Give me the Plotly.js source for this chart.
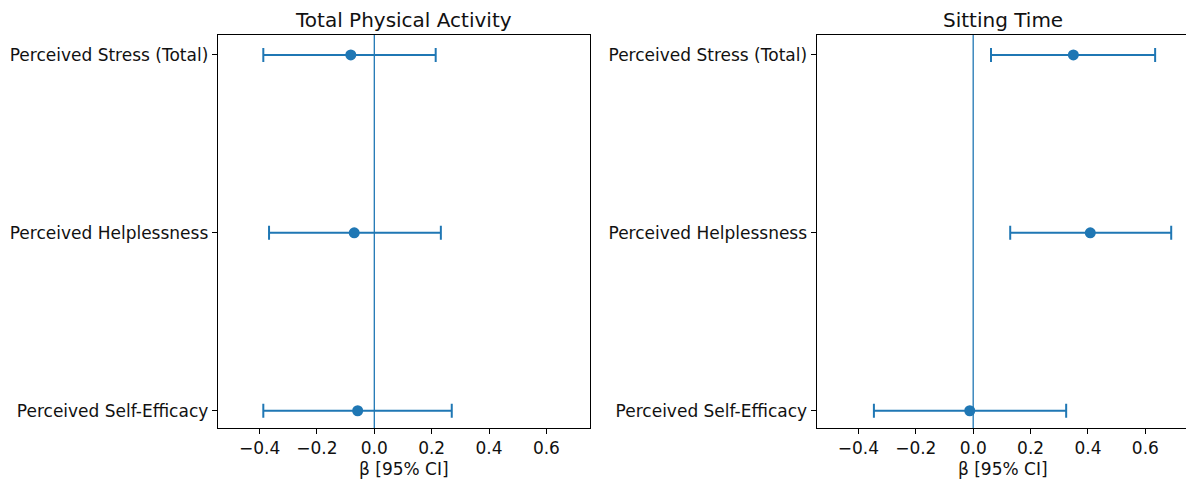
<!DOCTYPE html>
<html>
<head>
<meta charset="utf-8">
<script src="https://cdn.plot.ly/plotly-3.0.1.min.js"></script>
<style>
html,body{margin:0;padding:0;overflow:hidden;background:#fff;}
#chart{width:1190px;height:484px;}
</style>
</head>
<body>
<div id="chart"></div>
<script>
const categories = ['Perceived Stress (Total)', 'Perceived Helplessness', 'Perceived Self-Efficacy'];
const panelTitles = ['Total Physical Activity', 'Sitting Time'];

const paBeta  = [-0.082, -0.070, -0.058];
const paLower = [-0.387, -0.367, -0.387];
const paUpper = [0.214, 0.232, 0.270];

const stBeta  = [0.349, 0.408, -0.012];
const stLower = [0.062, 0.129, -0.346];
const stUpper = [0.634, 0.690, 0.324];

const xTicks = [-0.4, -0.2, 0.0, 0.2, 0.4, 0.6];
const xTitle = 'β [95% CI]';

const blue = '#1f77b4';
const W = 1190, H = 484;

function trace(beta, lo, hi, xa, ya) {
  return {
    type: 'scatter', mode: 'markers',
    x: beta, y: categories,
    xaxis: xa, yaxis: ya,
    marker: {color: blue, size: 11},
    error_x: {
      type: 'data', symmetric: false,
      array: beta.map((b, i) => hi[i] - b),
      arrayminus: beta.map((b, i) => b - lo[i]),
      color: blue, thickness: 2, width: 7
    },
    showlegend: false, hoverinfo: 'x+y'
  };
}

const yTop = 1 - 35 / H, yBot = 1 - 428 / H;
const tFont = {family: 'DejaVu Sans', size: 17, color: '#111'};

function xaxis(domain, anchor) {
  return {
    domain: domain, anchor: anchor,
    range: [-0.546, 0.752],
    tickvals: xTicks, tickformat: '.1f',
    ticks: 'outside', ticklen: 5, tickwidth: 1, tickcolor: '#000',
    showline: true, mirror: true, linecolor: '#000', linewidth: 1,
    showgrid: false, zeroline: false,
    tickfont: tFont,
    title: {text: xTitle, font: tFont, standoff: 5}
  };
}
function yaxis(anchor) {
  return {
    domain: [yBot, yTop], anchor: anchor,
    type: 'category', range: [2.097, -0.112],
    ticks: 'outside', ticklen: 5, tickwidth: 1, tickcolor: '#000',
    showline: true, mirror: true, linecolor: '#000', linewidth: 1,
    showgrid: false, zeroline: false,
    tickfont: tFont
  };
}

const d1 = [217.7 / W, 590 / W];
const d2 = [816.5 / W, 1189 / W];

const layout = {
  width: W, height: H,
  margin: {l: 0, r: 0, t: 0, b: 0},
  paper_bgcolor: '#fff', plot_bgcolor: '#fff',
  font: {family: 'DejaVu Sans', color: '#111'},
  xaxis: xaxis(d1, 'y'),
  yaxis: yaxis('x'),
  xaxis2: xaxis(d2, 'y2'),
  yaxis2: yaxis('x2'),
  shapes: [
    {type: 'line', xref: 'x', yref: 'y domain', x0: 0, x1: 0, y0: 0, y1: 1, line: {color: blue, width: 1.3}, layer: 'below'},
    {type: 'line', xref: 'x2', yref: 'y2 domain', x0: 0, x1: 0, y0: 0, y1: 1, line: {color: blue, width: 1.3}, layer: 'below'}
  ],
  annotations: [
    {text: panelTitles[0], xref: 'paper', yref: 'paper', x: (d1[0] + d1[1]) / 2, y: yTop, xanchor: 'center', yanchor: 'bottom', yshift: 1, showarrow: false, font: {family: 'DejaVu Sans', size: 20, color: '#111'}},
    {text: panelTitles[1], xref: 'paper', yref: 'paper', x: (d2[0] + 1186 / W) / 2 + 1.5 / W, y: yTop, xanchor: 'center', yanchor: 'bottom', yshift: 1, showarrow: false, font: {family: 'DejaVu Sans', size: 20, color: '#111'}}
  ]
};

Plotly.newPlot('chart', [
  trace(paBeta, paLower, paUpper, 'x', 'y'),
  trace(stBeta, stLower, stUpper, 'x2', 'y2')
], layout, {displayModeBar: false, staticPlot: true});
</script>
</body>
</html>
